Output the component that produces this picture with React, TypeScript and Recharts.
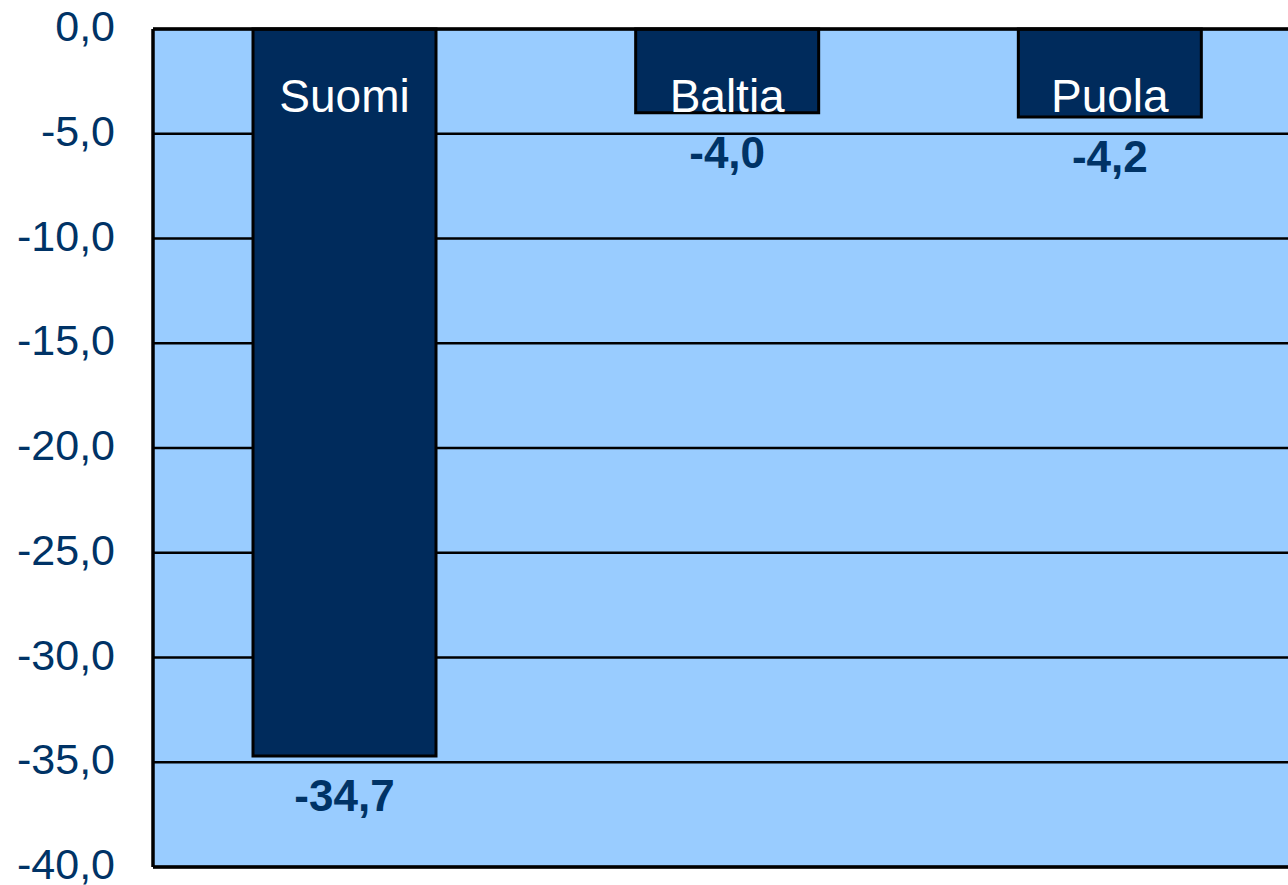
import React from "react";
import {
  BarChart,
  Bar,
  YAxis,
  XAxis,
  CartesianGrid,
  ReferenceLine,
  LabelList,
} from "recharts";

const categories = ["Suomi", "Baltia", "Puola"];
const values = [-34.7, -4.0, -4.2];
const yTicks = [0, -5, -10, -15, -20, -25, -30, -35, -40];

const data = categories.map((name, i) => ({ name, value: values[i] }));

const FONT = '"Liberation Sans", Arial, sans-serif';
const NAVY = "#002B5C";
const TEXT = "#003366";

const fmt = (v: number) => v.toFixed(1).replace(".", ",");

function NameLabel(props: any) {
  const { x, y, width, height, value } = props;
  const top = Math.min(y, y + height);
  return (
    <text
      x={x + width / 2}
      y={top + 83}
      textAnchor="middle"
      fill="#ffffff"
      fontSize={46}
      fontFamily={FONT}
    >
      {value}
    </text>
  );
}

function ValueLabel(props: any) {
  const { x, y, width, height, value } = props;
  const bottom = Math.max(y, y + height);
  return (
    <text
      x={x + width / 2}
      y={bottom + 55}
      textAnchor="middle"
      fill={TEXT}
      fontSize={44}
      fontWeight="bold"
      fontFamily={FONT}
    >
      {fmt(value)}
    </text>
  );
}

function YTick(props: any) {
  const { x, y, payload } = props;
  return (
    <text
      x={x}
      y={y + 12}
      textAnchor="end"
      fill={TEXT}
      fontSize={43}
      fontFamily={FONT}
    >
      {fmt(payload.value)}
    </text>
  );
}

export default function App() {
  return (
    <div
      style={{
        position: "absolute",
        left: 0,
        top: 0,
        width: 1288,
        height: 885,
        overflow: "hidden",
        background: "#ffffff",
      }}
    >
      <BarChart
        width={1301}
        height={885}
        data={data}
        margin={{ top: 29, right: 0, bottom: 18, left: 0 }}
        barSize={183}
      >
        <CartesianGrid
          horizontal
          vertical={false}
          stroke="#000000"
          strokeWidth={2.5}
          fill="#99CCFF"
          fillOpacity={1}
        />
        <XAxis dataKey="name" hide />
        <YAxis
          domain={[-40, 0]}
          ticks={yTicks}
          interval={0}
          width={153}
          tickLine={false}
          tickSize={0}
          tickMargin={38}
          axisLine={{ stroke: "#000000", strokeWidth: 3.5 }}
          tick={<YTick />}
        />
        <Bar
          dataKey="value"
          fill={NAVY}
          stroke="#000000"
          strokeWidth={3}
          isAnimationActive={false}
        >
          <LabelList dataKey="name" content={NameLabel} />
          <LabelList dataKey="value" content={ValueLabel} />
        </Bar>
        <ReferenceLine y={0} stroke="#000000" strokeWidth={3.5} />
        <ReferenceLine y={-40} stroke="#000000" strokeWidth={3.5} />
      </BarChart>
    </div>
  );
}
